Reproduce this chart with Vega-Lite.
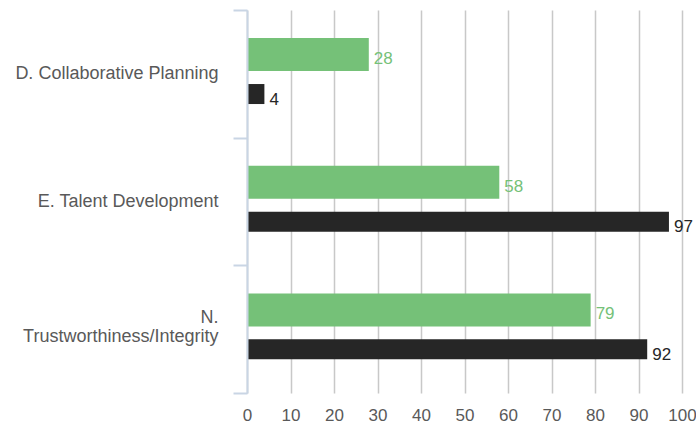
{
  "$schema": "https://vega.github.io/schema/vega-lite/v6.json",
  "width": 435,
  "height": 383,
  "autosize": "none",
  "padding": {"left": 247, "top": 10, "right": 14, "bottom": 37},
  "background": "white",
  "config": {
    "view": {"stroke": null},
    "font": "Liberation Sans"
  },
  "data": {
    "values": [
      {"category": "D. Collaborative Planning", "series": "Series 1", "value": 28},
      {"category": "D. Collaborative Planning", "series": "Series 2", "value": 4},
      {"category": "E. Talent Development", "series": "Series 1", "value": 58},
      {"category": "E. Talent Development", "series": "Series 2", "value": 97},
      {"category": "N. Trustworthiness/Integrity", "series": "Series 1", "value": 79},
      {"category": "N. Trustworthiness/Integrity", "series": "Series 2", "value": 92}
    ]
  },
  "encoding": {
    "y": {
      "field": "category",
      "type": "nominal",
      "sort": null,
      "scale": {"paddingInner": 0, "paddingOuter": 0},
      "axis": {
        "title": null,
        "tickBand": "extent",
        "tickSize": 14,
        "tickWidth": 2,
        "tickColor": "#c9d5e4",
        "domainColor": "#c9d5e4",
        "domainWidth": 2,
        "labelPadding": 15,
        "labelAlign": "right",
        "labelFontSize": 18,
        "labelColor": "#595959",
        "labelFont": "Liberation Sans",
        "labelLimit": 400,
        "labelLineHeight": 19,
        "labelOffset": {"condition": {"test": "datum.value == 'N. Trustworthiness/Integrity'", "value": -12}, "value": 0},
        "labelExpr": "datum.value == 'N. Trustworthiness/Integrity' ? ['N.', 'Trustworthiness/Integrity'] : datum.value",
        "grid": false,
        "zindex": 1
      }
    },
    "x": {
      "field": "value",
      "type": "quantitative",
      "scale": {"domain": [0, 100], "nice": false},
      "axis": {
        "title": null,
        "values": [0, 10, 20, 30, 40, 50, 60, 70, 80, 90, 100],
        "grid": true,
        "gridColor": "#c8c8c8",
        "gridWidth": 1.5,
        "domain": false,
        "ticks": false,
        "labelPadding": 14,
        "labelFontSize": 17,
        "labelColor": "#595959",
        "labelFont": "Liberation Sans",
        "labelFlush": false
      }
    }
  },
  "layer": [
    {
      "transform": [{"filter": "datum.series == 'Series 1'"}],
      "mark": {"type": "bar", "color": "#75c178"},
      "encoding": {
        "yOffset": {"field": "series", "type": "nominal", "scale": {"domain": ["Series 1", "Series 2"], "paddingInner": 0.143, "paddingOuter": 0.7295}}
      }
    },
    {
      "transform": [{"filter": "datum.series == 'Series 2'"}],
      "mark": {"type": "bar", "color": "#262626"},
      "encoding": {
        "yOffset": {"field": "series", "type": "nominal", "scale": {"domain": ["Series 1", "Series 2"], "paddingInner": 0.505, "paddingOuter": 0.8325}}
      }
    },
    {
      "transform": [{"filter": "datum.series == 'Series 1'"}],
      "mark": {"type": "text", "align": "left", "baseline": "middle", "dx": 5, "dy": 11, "fontSize": 17, "color": "#75c178", "font": "Liberation Sans"},
      "encoding": {
        "yOffset": {"field": "series", "type": "nominal", "scale": {"domain": ["Series 1", "Series 2"], "paddingInner": 0.143, "paddingOuter": 0.7295}},
        "text": {"field": "value", "type": "quantitative"}
      }
    },
    {
      "transform": [{"filter": "datum.series == 'Series 2'"}],
      "mark": {"type": "text", "align": "left", "baseline": "middle", "dx": 5, "dy": 2, "fontSize": 17, "color": "#262626", "font": "Liberation Sans"},
      "encoding": {
        "yOffset": {"field": "series", "type": "nominal", "scale": {"domain": ["Series 1", "Series 2"], "paddingInner": 0.505, "paddingOuter": 0.8325}},
        "text": {"field": "value", "type": "quantitative"}
      }
    }
  ],
  "resolve": {"scale": {"yOffset": "independent"}}
}
